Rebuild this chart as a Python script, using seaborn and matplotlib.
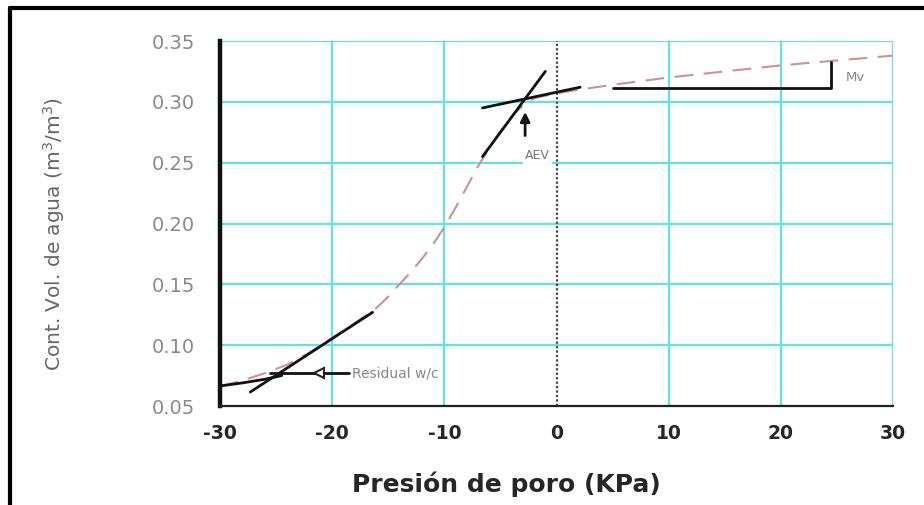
import numpy as np
import pandas as pd
import seaborn as sns
import matplotlib
matplotlib.use("Agg")
import matplotlib.pyplot as plt
from matplotlib.lines import Line2D

# soil water characteristic curve values
presion = [-30, -28, -26, -24, -22, -20, -18, -16, -15, -14, -13, -12, -11, -10,
           -9, -8, -7, -6, -5, -4, -3, -2, 0, 2, 5, 10, 15, 20, 25, 30]
cont_vol = [0.066, 0.071, 0.077, 0.084, 0.094, 0.106, 0.118, 0.131, 0.140, 0.150,
            0.160, 0.171, 0.183, 0.197, 0.213, 0.230, 0.247, 0.262, 0.276, 0.288,
            0.297, 0.303, 0.307, 0.310, 0.314, 0.320, 0.325, 0.330, 0.334, 0.338]

# black construction lines
aev_steep_x = [-6.6, -1.0]
aev_steep_y = [0.255, 0.325]
aev_flat_x = [-6.6, 2.1]
aev_flat_y = [0.295, 0.312]
mv_x = [5.0, 24.5, 24.5]
mv_y = [0.311, 0.311, 0.333]
res_slope_x = [-27.3, -16.4]
res_slope_y = [0.0615, 0.127]
res_curve_x = [-30, -28, -26, -24.5]
res_curve_y = [0.0665, 0.069, 0.072, 0.075]
res_arrow_x = [-25.5, -18.5]
res_arrow_y = [0.077, 0.077]

x_ticks = [-30, -20, -10, 0, 10, 20, 30]
x_marks = [-20, -10, 10, 20, 30]
y_ticks = [0.05, 0.10, 0.15, 0.20, 0.25, 0.30, 0.35]
grid_x = [-20, -10, 10, 20, 30]
grid_y = [0.10, 0.15, 0.20, 0.25, 0.30, 0.35]

sns.set_style("white")
plt.rcParams['font.family'] = ['DejaVu Sans']

fig = plt.figure(figsize=(9.24, 5.05), dpi=100)
ax = fig.add_axes([0.2381, 0.196, 0.7284, 0.7228])

cyan = '#5fe3e3'
for gx in grid_x:
    ax.axvline(gx, color=cyan, lw=1.6, zorder=0)
for gy in grid_y:
    ax.axhline(gy, color=cyan, lw=1.6, zorder=0)
ax.axvline(0, color='#444444', lw=1.6, ls=(0, (1, 1)), zorder=1)

df = pd.DataFrame({'x': presion, 'y': cont_vol})
sns.lineplot(data=df, x='x', y='y', ax=ax, color='#d09090', lw=1.5,
             dashes=False, zorder=2)
ax.lines[-1].set_linestyle((0, (9, 5)))

for lx, ly in [(aev_steep_x, aev_steep_y), (aev_flat_x, aev_flat_y), (mv_x, mv_y),
               (res_slope_x, res_slope_y), (res_curve_x, res_curve_y),
               (res_arrow_x, res_arrow_y)]:
    ax.plot(lx, ly, color='#111111', lw=2, zorder=3)

# residual water content marker and label
ax.plot([-21.2], [0.077], marker='<', ms=7, mfc='white', mec='#222222', mew=1.5,
        zorder=4)
ax.text(-18.2, 0.077, 'Residual w/c', color='#888888', fontsize=10,
        va='center', ha='left')

# AEV arrow
ax.annotate('', xy=(-2.8, 0.294), xytext=(-2.8, 0.270),
            arrowprops=dict(arrowstyle='-|>', color='#111111', lw=2,
                            mutation_scale=14, fill=False), zorder=4)
ax.text(-1.7, 0.256, 'AEV', color='#777777', fontsize=9, ha='center',
        va='center', bbox=dict(fc='white', ec='none', pad=1.5), zorder=3)
ax.text(26.6, 0.320, 'Mv', color='#888888', fontsize=9.5, ha='center',
        va='center')

ax.set_xlim(-30, 30)
ax.set_ylim(0.05, 0.35)
ax.set_xticks(x_ticks)
ax.set_xticklabels([str(v) for v in x_ticks], fontweight='bold', fontsize=13.5)
ax.set_xticks(x_marks, minor=True)
ax.set_yticks(y_ticks)
ax.set_yticklabels(['%.2f' % v for v in y_ticks], color='#8a8a8a', fontsize=14)
ax.tick_params(axis='x', which='major', length=0, pad=13)
ax.tick_params(axis='x', which='minor', direction='inout', length=8, width=4,
               color='#111111')
ax.tick_params(axis='y', direction='inout', length=34, width=2.2,
               color='#111111', pad=1)

for s in ['top', 'right']:
    ax.spines[s].set_visible(False)
ax.spines['left'].set_linewidth(3.2)
ax.spines['left'].set_color('#111111')
ax.spines['bottom'].set_linewidth(1.6)
ax.spines['bottom'].set_color('#222222')

ax.set_xlabel('Presión de poro (KPa)', fontweight='bold', fontsize=18)
ax.set_ylabel('Cont. Vol. de agua (m$^3$/m$^3$)', color='#666666', fontsize=14.5)
ax.yaxis.set_label_coords(-0.228, 0.47)
ax.xaxis.set_label_coords(0.425, -0.18)

# outer frame (only top and left edges are inside the picture)
fig.add_artist(Line2D([0.011, 1.0], [0.985, 0.985], color='black', lw=3,
                      transform=fig.transFigure))
fig.add_artist(Line2D([0.011, 0.011], [0.0, 0.985], color='black', lw=3,
                      transform=fig.transFigure))

fig.savefig('out.png', dpi=100, facecolor='white')
